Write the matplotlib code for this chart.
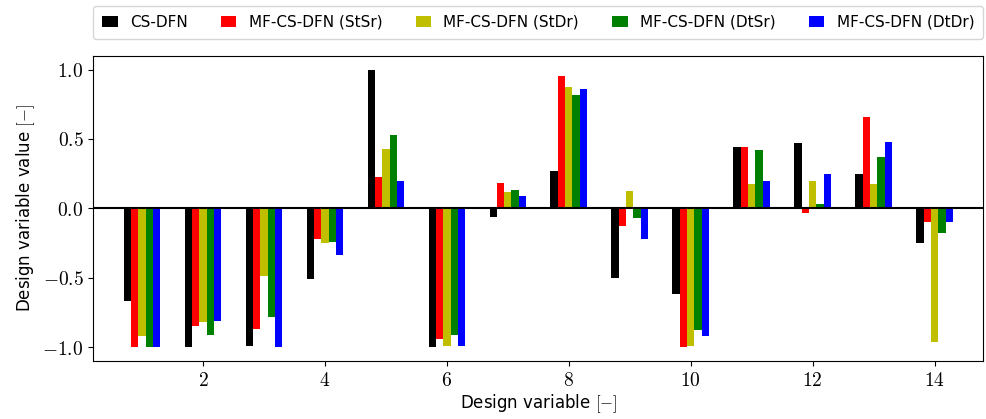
import numpy as np
import matplotlib
matplotlib.use('Agg')
import matplotlib.pyplot as plt
from matplotlib.ticker import FuncFormatter

plt.rcParams['mathtext.fontset'] = 'cm'
plt.rcParams['font.family'] = 'DejaVu Sans'

variables = np.arange(1, 15)
labels = ['CS-DFN', 'MF-CS-DFN (StSr)', 'MF-CS-DFN (StDr)',
          'MF-CS-DFN (DtSr)', 'MF-CS-DFN (DtDr)']
colors = ['k', 'r', 'y', 'g', 'b']

cs_dfn = [-0.67, -1.0, -0.995, -0.51, 1.0, -1.0, -0.06, 0.27, -0.50, -0.62,
          0.44, 0.47, 0.245, -0.25]
stsr = [-1.0, -0.85, -0.87, -0.22, 0.225, -0.94, 0.18, 0.955, -0.125, -1.0,
        0.44, -0.03, 0.655, -0.097]
stdr = [-0.92, -0.82, -0.49, -0.25, 0.43, -0.995, 0.115, 0.875, 0.125, -0.995,
        0.175, 0.195, 0.175, -0.96]
dtsr = [-1.0, -0.91, -0.78, -0.24, 0.53, -0.91, 0.13, 0.815, -0.068, -0.88,
        0.42, 0.03, 0.37, -0.175]
dtdr = [-1.0, -0.815, -1.0, -0.334, 0.20, -0.995, 0.09, 0.86, -0.22, -0.917,
        0.20, 0.245, 0.475, -0.097]
series = [cs_dfn, stsr, stdr, dtsr, dtdr]

w = 0.12  # bar width

fig = plt.figure(figsize=(9.86, 4.19), dpi=100)
ax = fig.add_axes([0.0946, 0.1384, 0.9027, 0.7286])
for i, (vals, lab, c) in enumerate(zip(series, labels, colors)):
    ax.bar(variables + (i - 2)*w, vals, w, color=c, label=lab)

ax.axhline(0, color='k', lw=1.5)
ax.set_xlim(0.2, 14.8)
ax.set_ylim(-1.1, 1.1)
ax.set_xticks(np.arange(2, 15, 2))
ax.set_yticks([-1.0, -0.5, 0.0, 0.5, 1.0])
ax.xaxis.set_major_formatter(FuncFormatter(lambda x, p: '$%d$' % x))
ax.yaxis.set_major_formatter(FuncFormatter(lambda y, p: '$%.1f$' % y))
ax.tick_params(labelsize=14)
ax.set_xlabel(r'Design variable $[-]$', fontsize=12, labelpad=2)
ax.set_ylabel(r'Design variable value $[-]$', fontsize=12)

ax.legend(loc='lower left', bbox_to_anchor=(0, 1.055, 1, 0.1), mode='expand',
          ncol=5, fontsize=11, borderaxespad=0, borderpad=0.6,
          handlelength=1.0, handletextpad=0.8)

fig.savefig('out.png', dpi=100)
